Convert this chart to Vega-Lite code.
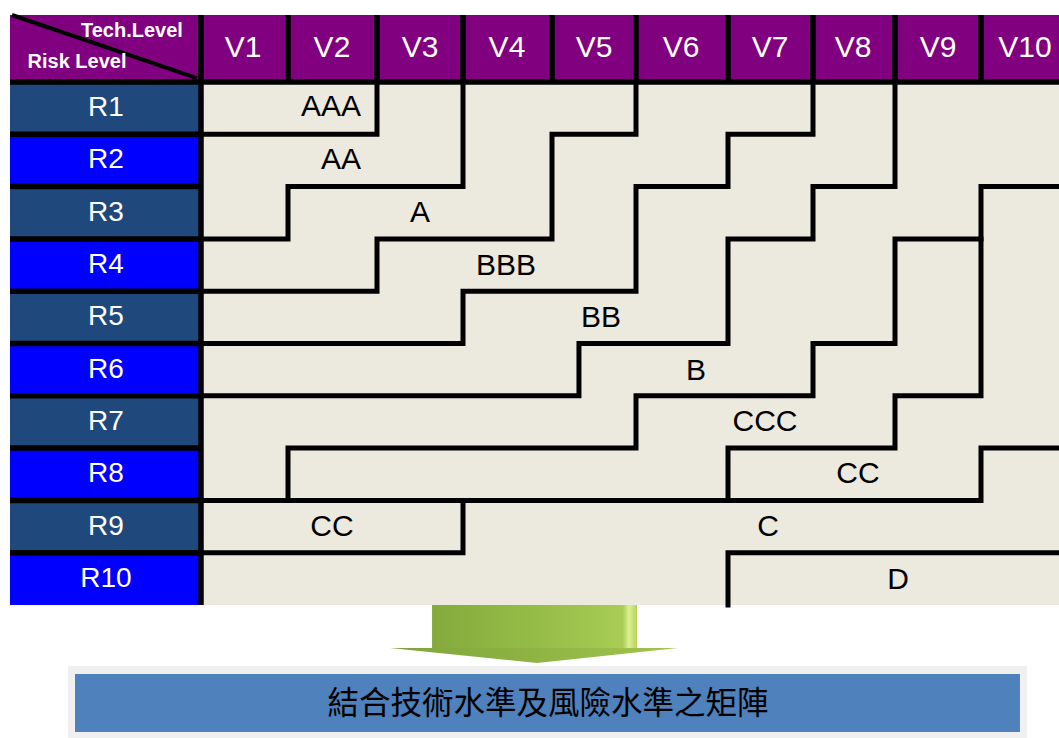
{
  "$schema": "https://vega.github.io/schema/vega-lite/v6.json",
  "width": 1059,
  "height": 738,
  "padding": 0,
  "autosize": {"type": "none"},
  "background": "#ffffff",
  "config": {"view": {"stroke": null}},
  "datasets": {
    "cells": [
      {"kind": "header", "c0": -2.23, "c1": 10, "r0": -1.281, "r1": 0},
      {"kind": "odd", "c0": -2.23, "c1": 0, "r0": 0, "r1": 1},
      {"kind": "even", "c0": -2.23, "c1": 0, "r0": 1, "r1": 2},
      {"kind": "odd", "c0": -2.23, "c1": 0, "r0": 2, "r1": 3},
      {"kind": "even", "c0": -2.23, "c1": 0, "r0": 3, "r1": 4},
      {"kind": "odd", "c0": -2.23, "c1": 0, "r0": 4, "r1": 5},
      {"kind": "even", "c0": -2.23, "c1": 0, "r0": 5, "r1": 6},
      {"kind": "odd", "c0": -2.23, "c1": 0, "r0": 6, "r1": 7},
      {"kind": "even", "c0": -2.23, "c1": 0, "r0": 7, "r1": 8},
      {"kind": "odd", "c0": -2.23, "c1": 0, "r0": 8, "r1": 9},
      {"kind": "even", "c0": -2.23, "c1": 0, "r0": 9, "r1": 10},
      {"kind": "grid", "c0": 0, "c1": 10, "r0": 0, "r1": 10},
      {"kind": "outer", "c0": -1.553, "c1": 9.529, "r0": 11.166, "r1": 12.6},
      {"kind": "box", "c0": -1.471, "c1": 9.448, "r0": 11.319, "r1": 12.428}
    ],
    "shaft": [{"c0": 2.64, "c1": 5.011, "r0": 10, "r1": 10.822}],
    "head": [
      {"c": 2.151, "top": 10.822, "bot": 10.822},
      {"c": 3.831, "top": 10.822, "bot": 11.109},
      {"c": 5.457, "top": 10.822, "bot": 10.822}
    ],
    "frame": [
      {"c0": -2.23, "c1": 10, "r0": 0, "r1": 0},
      {"c0": 0, "c1": 0, "r0": -1.281, "r1": 10},
      {"c0": 1, "c1": 1, "r0": -1.281, "r1": 0},
      {"c0": 2, "c1": 2, "r0": -1.281, "r1": 0},
      {"c0": 3, "c1": 3, "r0": -1.281, "r1": 0},
      {"c0": 4, "c1": 4, "r0": -1.281, "r1": 0},
      {"c0": 5, "c1": 5, "r0": -1.281, "r1": 0},
      {"c0": 6, "c1": 6, "r0": -1.281, "r1": 0},
      {"c0": 7, "c1": 7, "r0": -1.281, "r1": 0},
      {"c0": 8, "c1": 8, "r0": -1.281, "r1": 0},
      {"c0": 9, "c1": 9, "r0": -1.281, "r1": 0},
      {"c0": -2.23, "c1": 0, "r0": 1, "r1": 1},
      {"c0": -2.23, "c1": 0, "r0": 2, "r1": 2},
      {"c0": -2.23, "c1": 0, "r0": 3, "r1": 3},
      {"c0": -2.23, "c1": 0, "r0": 4, "r1": 4},
      {"c0": -2.23, "c1": 0, "r0": 5, "r1": 5},
      {"c0": -2.23, "c1": 0, "r0": 6, "r1": 6},
      {"c0": -2.23, "c1": 0, "r0": 7, "r1": 7},
      {"c0": -2.23, "c1": 0, "r0": 8, "r1": 8},
      {"c0": -2.23, "c1": 0, "r0": 9, "r1": 9}
    ],
    "diag": [{"c0": -2.207, "c1": -0.047, "r0": -1.281, "r1": -0.076}],
    "steps": [
      {"s": "L1", "i": 0, "c": 0, "r": 1}, {"s": "L1", "i": 1, "c": 2, "r": 1}, {"s": "L1", "i": 2, "c": 2, "r": 0},
      {"s": "L2", "i": 0, "c": 0, "r": 3}, {"s": "L2", "i": 1, "c": 1, "r": 3}, {"s": "L2", "i": 2, "c": 1, "r": 2}, {"s": "L2", "i": 3, "c": 3, "r": 2}, {"s": "L2", "i": 4, "c": 3, "r": 0},
      {"s": "L3", "i": 0, "c": 0, "r": 4}, {"s": "L3", "i": 1, "c": 2, "r": 4}, {"s": "L3", "i": 2, "c": 2, "r": 3}, {"s": "L3", "i": 3, "c": 4, "r": 3}, {"s": "L3", "i": 4, "c": 4, "r": 1}, {"s": "L3", "i": 5, "c": 5, "r": 1}, {"s": "L3", "i": 6, "c": 5, "r": 0},
      {"s": "L4", "i": 0, "c": 0, "r": 5}, {"s": "L4", "i": 1, "c": 3, "r": 5}, {"s": "L4", "i": 2, "c": 3, "r": 4}, {"s": "L4", "i": 3, "c": 5, "r": 4}, {"s": "L4", "i": 4, "c": 5, "r": 2}, {"s": "L4", "i": 5, "c": 6, "r": 2}, {"s": "L4", "i": 6, "c": 6, "r": 1}, {"s": "L4", "i": 7, "c": 7, "r": 1}, {"s": "L4", "i": 8, "c": 7, "r": 0},
      {"s": "L5", "i": 0, "c": 0, "r": 6}, {"s": "L5", "i": 1, "c": 4.321, "r": 6}, {"s": "L5", "i": 2, "c": 4.321, "r": 5}, {"s": "L5", "i": 3, "c": 6, "r": 5}, {"s": "L5", "i": 4, "c": 6, "r": 3}, {"s": "L5", "i": 5, "c": 7, "r": 3}, {"s": "L5", "i": 6, "c": 7, "r": 2}, {"s": "L5", "i": 7, "c": 8, "r": 2}, {"s": "L5", "i": 8, "c": 8, "r": 0},
      {"s": "L6", "i": 0, "c": 1, "r": 8}, {"s": "L6", "i": 1, "c": 1, "r": 7}, {"s": "L6", "i": 2, "c": 5, "r": 7}, {"s": "L6", "i": 3, "c": 5, "r": 6}, {"s": "L6", "i": 4, "c": 7, "r": 6}, {"s": "L6", "i": 5, "c": 7, "r": 5}, {"s": "L6", "i": 6, "c": 8, "r": 5}, {"s": "L6", "i": 7, "c": 8, "r": 3}, {"s": "L6", "i": 8, "c": 9, "r": 3}, {"s": "L6", "i": 9, "c": 9, "r": 2}, {"s": "L6", "i": 10, "c": 10, "r": 2},
      {"s": "L7", "i": 0, "c": 6, "r": 8}, {"s": "L7", "i": 1, "c": 6, "r": 7}, {"s": "L7", "i": 2, "c": 8, "r": 7}, {"s": "L7", "i": 3, "c": 8, "r": 6}, {"s": "L7", "i": 4, "c": 9, "r": 6}, {"s": "L7", "i": 5, "c": 9, "r": 3},
      {"s": "L8", "i": 0, "c": 0, "r": 8}, {"s": "L8", "i": 1, "c": 9, "r": 8}, {"s": "L8", "i": 2, "c": 9, "r": 7}, {"s": "L8", "i": 3, "c": 10, "r": 7},
      {"s": "L9", "i": 0, "c": 0, "r": 9}, {"s": "L9", "i": 1, "c": 3, "r": 9}, {"s": "L9", "i": 2, "c": 3, "r": 8},
      {"s": "L10", "i": 0, "c": 6, "r": 10}, {"s": "L10", "i": 1, "c": 6, "r": 9}, {"s": "L10", "i": 2, "c": 10, "r": 9}
    ],
    "vlabels": [
      {"t": "V1", "c": 0.483}, {"t": "V2", "c": 1.494}, {"t": "V3", "c": 2.5}, {"t": "V4", "c": 3.494}, {"t": "V5", "c": 4.5},
      {"t": "V6", "c": 5.489}, {"t": "V7", "c": 6.494}, {"t": "V8", "c": 7.488}, {"t": "V9", "c": 8.5}, {"t": "V10", "c": 9.506}
    ],
    "rlabels": [
      {"t": "R1", "r": 0.5}, {"t": "R2", "r": 1.5}, {"t": "R3", "r": 2.5}, {"t": "R4", "r": 3.5}, {"t": "R5", "r": 4.5},
      {"t": "R6", "r": 5.5}, {"t": "R7", "r": 6.5}, {"t": "R8", "r": 7.5}, {"t": "R9", "r": 8.5}, {"t": "R10", "r": 9.5}
    ],
    "corner": [
      {"t": "Tech.Level", "c": -0.806, "r": -0.975},
      {"t": "Risk Level", "c": -1.448, "r": -0.382}
    ],
    "grades": [
      {"t": "AAA", "c": 1.483, "r": 0.478},
      {"t": "AA", "c": 1.596, "r": 1.491},
      {"t": "A", "c": 2.5, "r": 2.505},
      {"t": "BBB", "c": 3.483, "r": 3.518},
      {"t": "BB", "c": 4.583, "r": 4.512},
      {"t": "B", "c": 5.652, "r": 5.526},
      {"t": "CCC", "c": 6.435, "r": 6.501},
      {"t": "CC", "c": 7.549, "r": 7.495},
      {"t": "CC", "c": 1.494, "r": 8.509},
      {"t": "C", "c": 6.471, "r": 8.509},
      {"t": "D", "c": 8.035, "r": 9.522}
    ],
    "caption": [{"t": "結合技術水準及風險水準之矩陣", "c": 3.955, "r": 11.912}]
  },
  "layer": [
    {
      "data": {"name": "cells"},
      "mark": {"type": "rect", "clip": true},
      "encoding": {
        "x": {"field": "c0", "type": "quantitative", "scale": {"domain": [-2.23, 0, 1, 2, 3, 4, 5, 6, 7, 8, 9, 10], "range": [10, 201, 288, 377, 463, 552, 636, 728, 813, 895, 981, 1068], "nice": false, "zero": false}, "axis": null},
        "x2": {"field": "c1"},
        "y": {"field": "r0", "type": "quantitative", "scale": {"domain": [-1.568, 12.543], "nice": false, "zero": false, "reverse": true}, "axis": null},
        "y2": {"field": "r1"},
        "color": {"field": "kind", "type": "nominal", "legend": null,
          "scale": {"domain": ["header", "odd", "even", "grid", "outer", "box"], "range": ["#800080", "#1F497D", "#0000FF", "#ECE9DF", "#F0F0F0", "#4F81BD"]}}
      }
    },
    {
      "data": {"name": "shaft"},
      "mark": {"type": "rect", "clip": true,
        "color": {"gradient": "linear", "x1": 0, "y1": 0, "x2": 1, "y2": 0,
          "stops": [{"offset": 0, "color": "#84AA3C"}, {"offset": 0.5, "color": "#96BC48"}, {"offset": 0.93, "color": "#A8CC54"}, {"offset": 0.96, "color": "#DDF090"}, {"offset": 1, "color": "#B5D460"}]}},
      "encoding": {
        "x": {"field": "c0", "type": "quantitative", "scale": {"domain": [-2.23, 0, 1, 2, 3, 4, 5, 6, 7, 8, 9, 10], "range": [10, 201, 288, 377, 463, 552, 636, 728, 813, 895, 981, 1068], "nice": false, "zero": false}, "axis": null},
        "x2": {"field": "c1"},
        "y": {"field": "r0", "type": "quantitative", "scale": {"domain": [-1.568, 12.543], "nice": false, "zero": false, "reverse": true}, "axis": null},
        "y2": {"field": "r1"}
      }
    },
    {
      "data": {"name": "head"},
      "mark": {"type": "area", "orient": "vertical", "clip": true,
        "color": {"gradient": "linear", "x1": 0, "y1": 0, "x2": 1, "y2": 0,
          "stops": [{"offset": 0, "color": "#7FA33A"}, {"offset": 0.5, "color": "#8FB444"}, {"offset": 1, "color": "#A2C44E"}]}},
      "encoding": {
        "x": {"field": "c", "type": "quantitative", "scale": {"domain": [-2.23, 0, 1, 2, 3, 4, 5, 6, 7, 8, 9, 10], "range": [10, 201, 288, 377, 463, 552, 636, 728, 813, 895, 981, 1068], "nice": false, "zero": false}, "axis": null},
        "y": {"field": "top", "type": "quantitative", "scale": {"domain": [-1.568, 12.543], "nice": false, "zero": false, "reverse": true}, "axis": null},
        "y2": {"field": "bot"}
      }
    },
    {
      "data": {"name": "frame"},
      "mark": {"type": "rule", "color": "#000000", "strokeWidth": 5.5, "clip": true},
      "encoding": {
        "x": {"field": "c0", "type": "quantitative", "scale": {"domain": [-2.23, 0, 1, 2, 3, 4, 5, 6, 7, 8, 9, 10], "range": [10, 201, 288, 377, 463, 552, 636, 728, 813, 895, 981, 1068], "nice": false, "zero": false}, "axis": null},
        "x2": {"field": "c1"},
        "y": {"field": "r0", "type": "quantitative", "scale": {"domain": [-1.568, 12.543], "nice": false, "zero": false, "reverse": true}, "axis": null},
        "y2": {"field": "r1"}
      }
    },
    {
      "data": {"name": "diag"},
      "mark": {"type": "rule", "color": "#000000", "strokeWidth": 4},
      "encoding": {
        "x": {"field": "c0", "type": "quantitative", "scale": {"domain": [-2.23, 0, 1, 2, 3, 4, 5, 6, 7, 8, 9, 10], "range": [10, 201, 288, 377, 463, 552, 636, 728, 813, 895, 981, 1068], "nice": false, "zero": false}, "axis": null},
        "x2": {"field": "c1"},
        "y": {"field": "r0", "type": "quantitative", "scale": {"domain": [-1.568, 12.543], "nice": false, "zero": false, "reverse": true}, "axis": null},
        "y2": {"field": "r1"}
      }
    },
    {
      "data": {"name": "steps"},
      "mark": {"type": "line", "color": "#000000", "strokeWidth": 5, "strokeJoin": "miter", "strokeCap": "square", "clip": true},
      "encoding": {
        "x": {"field": "c", "type": "quantitative", "scale": {"domain": [-2.23, 0, 1, 2, 3, 4, 5, 6, 7, 8, 9, 10], "range": [10, 201, 288, 377, 463, 552, 636, 728, 813, 895, 981, 1068], "nice": false, "zero": false}, "axis": null},
        "y": {"field": "r", "type": "quantitative", "scale": {"domain": [-1.568, 12.543], "nice": false, "zero": false, "reverse": true}, "axis": null},
        "detail": {"field": "s", "type": "nominal"},
        "order": {"field": "i", "type": "quantitative"}
      }
    },
    {
      "data": {"name": "vlabels"},
      "mark": {"type": "text", "fill": "#FFFFFF", "font": "Liberation Sans", "fontSize": 30, "align": "center", "baseline": "middle", "clip": true},
      "encoding": {
        "x": {"field": "c", "type": "quantitative", "scale": {"domain": [-2.23, 0, 1, 2, 3, 4, 5, 6, 7, 8, 9, 10], "range": [10, 201, 288, 377, 463, 552, 636, 728, 813, 895, 981, 1068], "nice": false, "zero": false}, "axis": null},
        "y": {"datum": -0.65, "type": "quantitative", "scale": {"domain": [-1.568, 12.543], "nice": false, "zero": false, "reverse": true}, "axis": null},
        "text": {"field": "t", "type": "nominal"}
      }
    },
    {
      "data": {"name": "rlabels"},
      "mark": {"type": "text", "fill": "#FFFFFF", "font": "Liberation Sans", "fontSize": 28, "align": "center", "baseline": "middle"},
      "encoding": {
        "x": {"datum": -1.109, "type": "quantitative", "scale": {"domain": [-2.23, 0, 1, 2, 3, 4, 5, 6, 7, 8, 9, 10], "range": [10, 201, 288, 377, 463, 552, 636, 728, 813, 895, 981, 1068], "nice": false, "zero": false}, "axis": null},
        "y": {"field": "r", "type": "quantitative", "scale": {"domain": [-1.568, 12.543], "nice": false, "zero": false, "reverse": true}, "axis": null},
        "text": {"field": "t", "type": "nominal"}
      }
    },
    {
      "data": {"name": "corner"},
      "mark": {"type": "text", "fill": "#FFFFFF", "font": "Liberation Sans", "fontWeight": "bold", "fontSize": 20, "align": "center", "baseline": "middle"},
      "encoding": {
        "x": {"field": "c", "type": "quantitative", "scale": {"domain": [-2.23, 0, 1, 2, 3, 4, 5, 6, 7, 8, 9, 10], "range": [10, 201, 288, 377, 463, 552, 636, 728, 813, 895, 981, 1068], "nice": false, "zero": false}, "axis": null},
        "y": {"field": "r", "type": "quantitative", "scale": {"domain": [-1.568, 12.543], "nice": false, "zero": false, "reverse": true}, "axis": null},
        "text": {"field": "t", "type": "nominal"}
      }
    },
    {
      "data": {"name": "grades"},
      "mark": {"type": "text", "fill": "#000000", "font": "Liberation Sans", "fontSize": 30, "align": "center", "baseline": "middle"},
      "encoding": {
        "x": {"field": "c", "type": "quantitative", "scale": {"domain": [-2.23, 0, 1, 2, 3, 4, 5, 6, 7, 8, 9, 10], "range": [10, 201, 288, 377, 463, 552, 636, 728, 813, 895, 981, 1068], "nice": false, "zero": false}, "axis": null},
        "y": {"field": "r", "type": "quantitative", "scale": {"domain": [-1.568, 12.543], "nice": false, "zero": false, "reverse": true}, "axis": null},
        "text": {"field": "t", "type": "nominal"}
      }
    },
    {
      "data": {"name": "caption"},
      "mark": {"type": "text", "fill": "#000000", "font": "Noto Sans CJK TC", "fontSize": 31.5, "align": "center", "baseline": "middle"},
      "encoding": {
        "x": {"field": "c", "type": "quantitative", "scale": {"domain": [-2.23, 0, 1, 2, 3, 4, 5, 6, 7, 8, 9, 10], "range": [10, 201, 288, 377, 463, 552, 636, 728, 813, 895, 981, 1068], "nice": false, "zero": false}, "axis": null},
        "y": {"field": "r", "type": "quantitative", "scale": {"domain": [-1.568, 12.543], "nice": false, "zero": false, "reverse": true}, "axis": null},
        "text": {"field": "t", "type": "nominal"}
      }
    }
  ]
}
